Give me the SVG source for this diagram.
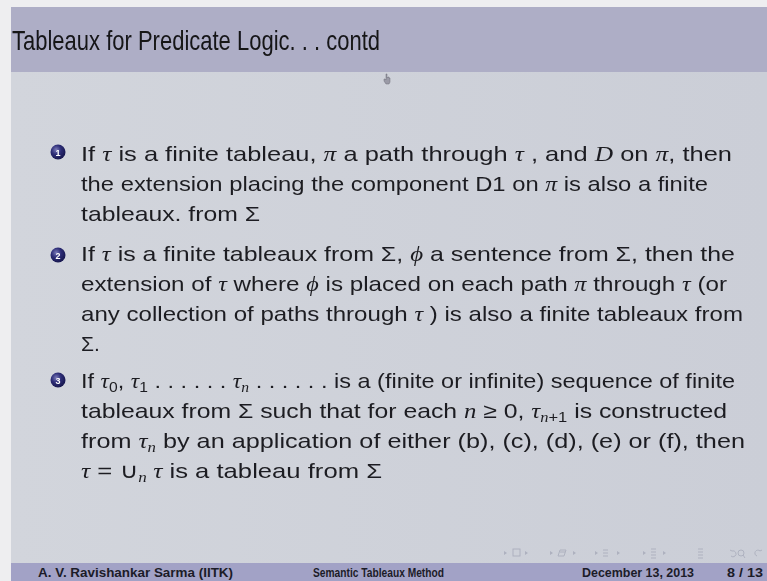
<svg xmlns="http://www.w3.org/2000/svg" width="767" height="581" viewBox="0 0 767 581">
  <defs>
    <radialGradient id="ball" cx="0.38" cy="0.35" r="0.7">
      <stop offset="0" stop-color="#7a7ab8"/>
      <stop offset="0.45" stop-color="#2e2e78"/>
      <stop offset="1" stop-color="#15154a"/>
    </radialGradient>
    <linearGradient id="body" x1="0" y1="0" x2="1" y2="0">
      <stop offset="0" stop-color="#d2d5dc"/>
      <stop offset="1" stop-color="#cbced7"/>
    </linearGradient>
    <filter id="soft" x="-5%" y="-5%" width="110%" height="110%">
      <feGaussianBlur stdDeviation="0.35"/>
    </filter>
  </defs>
  <style>
    .title { font-family: "Liberation Sans", "DejaVu Sans", sans-serif; font-size: 28px; fill: #141418; }
    .txt { font-family: "Liberation Sans", "DejaVu Sans", sans-serif; font-size: 21px; fill: #1e1e22; }
    .m { font-family: "Liberation Serif", "DejaVu Serif", serif; font-style: italic; }
    .sub { font-size: 14px; }
    .num { font-family: "Liberation Sans", sans-serif; font-size: 9px; font-weight: bold; fill: #ffffff; }
    .foot { font-family: "Liberation Sans", "DejaVu Sans", sans-serif; font-size: 12.5px; font-weight: bold; fill: #1c1c28; }
    .nav { fill: none; stroke: #aeb1bf; stroke-width: 1; }
  </style>

  <!-- page margins -->
  <rect x="0" y="0" width="767" height="581" fill="#eeeef0"/>
  <!-- slide body -->
  <rect x="11" y="7" width="756" height="574" fill="url(#body)"/>
  <!-- title bar -->
  <rect x="11" y="7" width="756" height="65" fill="#aeaec6"/>
  <!-- footer bar -->
  <rect x="11" y="563" width="756" height="18" fill="#a2a2c6"/>

  <g filter="url(#soft)">
    <text class="title" x="12" y="50" textLength="368" lengthAdjust="spacingAndGlyphs">Tableaux for Predicate Logic. . . contd</text>

    <!-- pointer cursor -->
    <g id="cursor" fill="#9a9aa6" stroke="#6c6c78" stroke-width="0.5">
      <path d="M386 74 l1 0 l0 4 l1 -1 l1 0 l0 1 l1 0 l0 4 l-1 2 l-3 0 l-2 -3 l0 -2 l1 0 l1 1 z"/>
    </g>

    <!-- item 1 -->
    <g id="item1">
      <circle cx="58" cy="152" r="7.5" fill="url(#ball)"/>
      <text class="num" x="58" y="155.5" text-anchor="middle">1</text>
      <text class="txt" x="81" y="161" textLength="651" lengthAdjust="spacingAndGlyphs">If <tspan class="m">τ</tspan> is a finite tableau,  <tspan class="m">π</tspan> a path through <tspan class="m">τ</tspan>  , and <tspan class="m">D</tspan> on <tspan class="m">π</tspan>, then</text>
      <text class="txt" x="81" y="191" textLength="627" lengthAdjust="spacingAndGlyphs">the extension placing the component D1 on <tspan class="m">π</tspan> is also a finite</text>
      <text class="txt" x="81" y="221" textLength="179" lengthAdjust="spacingAndGlyphs">tableaux. from Σ</text>
    </g>

    <!-- item 2 -->
    <g id="item2">
      <circle cx="58" cy="255" r="7.5" fill="url(#ball)"/>
      <text class="num" x="58" y="258.5" text-anchor="middle">2</text>
      <text class="txt" x="81" y="261" textLength="654" lengthAdjust="spacingAndGlyphs">If <tspan class="m">τ</tspan> is a finite tableaux from Σ, <tspan class="m">ϕ</tspan> a sentence from Σ, then the</text>
      <text class="txt" x="81" y="291" textLength="646" lengthAdjust="spacingAndGlyphs">extension of <tspan class="m">τ</tspan> where <tspan class="m">ϕ</tspan> is placed on each path <tspan class="m">π</tspan>  through <tspan class="m">τ</tspan>  (or</text>
      <text class="txt" x="81" y="321" textLength="662" lengthAdjust="spacingAndGlyphs">any collection of paths through <tspan class="m">τ</tspan> ) is also a finite tableaux from</text>
      <text class="txt" x="81" y="351">Σ.</text>
    </g>

    <!-- item 3 -->
    <g id="item3">
      <circle cx="58" cy="380" r="7.5" fill="url(#ball)"/>
      <text class="num" x="58" y="383.5" text-anchor="middle">3</text>
      <text class="txt" x="81" y="388" textLength="654" lengthAdjust="spacingAndGlyphs">If <tspan class="m">τ</tspan><tspan class="sub" dy="4">0</tspan><tspan dy="-4">, </tspan><tspan class="m">τ</tspan><tspan class="sub" dy="4">1</tspan><tspan dy="-4"> . . . . . . </tspan><tspan class="m">τ</tspan><tspan class="m sub" dy="4">n</tspan><tspan dy="-4"> . . . . . .   is a (finite or infinite) sequence of finite</tspan></text>
      <text class="txt" x="81" y="418" textLength="646" lengthAdjust="spacingAndGlyphs">tableaux from Σ such that for each <tspan class="m">n</tspan> ≥ 0,  <tspan class="m">τ</tspan><tspan class="sub" dy="4"><tspan class="m">n</tspan>+1</tspan><tspan dy="-4"> is constructed</tspan></text>
      <text class="txt" x="81" y="448" textLength="664" lengthAdjust="spacingAndGlyphs">from <tspan class="m">τ</tspan><tspan class="m sub" dy="4">n</tspan><tspan dy="-4"> by an application of either (b), (c), (d), (e) or (f),  then</tspan></text>
      <text class="txt" x="81" y="478" textLength="301" lengthAdjust="spacingAndGlyphs"><tspan class="m">τ</tspan> = ∪<tspan class="m sub" dy="4">n</tspan><tspan class="m" dy="-4"> τ</tspan> is a tableau from Σ</text>
    </g>

    <!-- navigation symbols -->
    <g id="nav" class="nav">
      <path d="M507 553 l-3 -2 v4 z" fill="#aeb1bf" stroke="none"/>
      <rect x="513" y="549" width="7" height="7"/>
      <path d="M525 551 l3 2 l-3 2 z" fill="#aeb1bf" stroke="none"/>
      <path d="M553 553 l-3 -2 v4 z" fill="#aeb1bf" stroke="none"/>
      <path d="M558 556 h6 l2 -6 h-6 z M560 552 h5"/>
      <path d="M573 551 l3 2 l-3 2 z" fill="#aeb1bf" stroke="none"/>
      <path d="M598 553 l-3 -2 v4 z" fill="#aeb1bf" stroke="none"/>
      <path d="M603 550 h5 M603 553 h5 M603 556 h5"/>
      <path d="M617 551 l3 2 l-3 2 z" fill="#aeb1bf" stroke="none"/>
      <path d="M646 553 l-3 -2 v4 z" fill="#aeb1bf" stroke="none"/>
      <path d="M651 549 h5 M651 552 h5 M651 555 h5 M651 558 h5"/>
      <path d="M663 551 l3 2 l-3 2 z" fill="#aeb1bf" stroke="none"/>
      <path d="M698 549 h5 M698 552 h5 M698 555 h5 M698 558 h5"/>
      <path d="M732 551 a3 3 0 1 1 -1 5 M732 551 l-2 -1"/>
      <circle cx="741" cy="553" r="3"/>
      <path d="M743 555 l2 3"/>
      <path d="M757 556 a3 3 0 1 1 3 -5 l2 -1"/>
    </g>
  </g>

  <!-- footer -->
  <g id="footer">
    <text class="foot" x="38" y="577" textLength="195" lengthAdjust="spacingAndGlyphs">A. V. Ravishankar Sarma  (IITK)</text>
    <text class="foot" x="313" y="577" textLength="131" lengthAdjust="spacingAndGlyphs">Semantic Tableaux Method</text>
    <text class="foot" x="582" y="577" textLength="112" lengthAdjust="spacingAndGlyphs">December 13, 2013</text>
    <text class="foot" x="727" y="577" textLength="36" lengthAdjust="spacingAndGlyphs">8 / 13</text>
  </g>
</svg>
